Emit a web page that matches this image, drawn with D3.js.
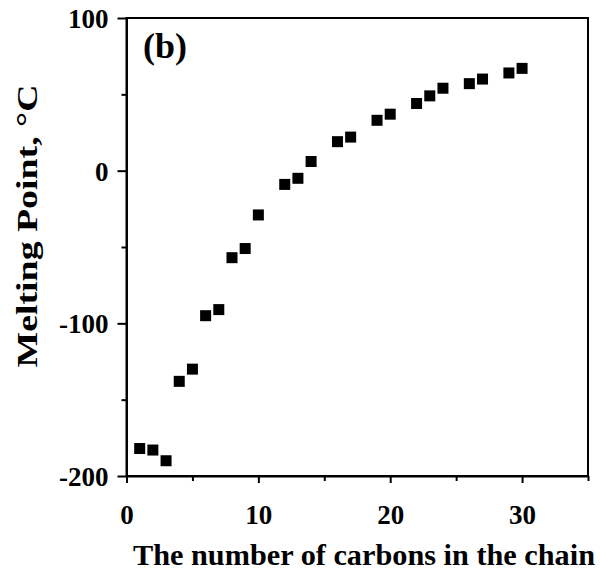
<!DOCTYPE html>
<html><head><meta charset="utf-8">
<script src="https://cdn.jsdelivr.net/npm/d3@7"></script>
<style>body{margin:0;background:#fff}svg{display:block}</style>
</head><body>
<svg id="c" width="600" height="577"></svg>
<script>
const carbons = [1,2,3,4,5,6,7,8,9,10,12,13,14,16,17,19,20,22,23,24,26,27,29,30];
const meltingPoints = [-182,-183,-190,-138,-130,-95,-91,-57,-51,-29,-9,-5,6,19,22,33,37,44,49,54,57,60,64,67];
const xTicks = [0,10,20,30];
const xMinorTicks = [5,15,25,35];
const yTicks = [-200,-100,0,100];
const yMinorTicks = [-150,-50,50];
const xTitle = "The number of carbons in the chain";
const yTitle = "Melting Point, °C";
const panelLabel = "(b)";

const svg = d3.select("#c");
const L = 126.5, R = 588, T = 18, B = 476;
const x = d3.scaleLinear().domain([0,35]).range([L,R]);
const y = d3.scaleLinear().domain([-200,100]).range([B,T]);
const font = "'Liberation Serif','Times New Roman',serif";
const fmt = d => String(d);

svg.append("rect").attr("x",L).attr("y",T).attr("width",R-L).attr("height",B-T)
  .attr("fill","none").attr("stroke","#000").attr("stroke-width",2);

svg.append("g").attr("transform",`translate(0,${B})`)
  .call(d3.axisBottom(x).tickValues(xTicks).tickSize(7).tickSizeOuter(0).tickPadding(22).tickFormat(fmt));
svg.append("g").attr("transform",`translate(0,${B})`)
  .call(d3.axisBottom(x).tickValues(xMinorTicks).tickSize(5).tickSizeOuter(0).tickFormat(""))
  .call(g=>g.select(".domain").remove());
const gy = svg.append("g").attr("transform",`translate(${L},0)`)
  .call(d3.axisLeft(y).tickValues(yTicks).tickSize(9).tickSizeOuter(0).tickPadding(9).tickFormat(fmt));
svg.append("g").attr("transform",`translate(${L},0)`)
  .call(d3.axisLeft(y).tickValues(yMinorTicks).tickSize(5).tickSizeOuter(0).tickFormat(""))
  .call(g=>g.select(".domain").remove());

svg.selectAll(".domain").attr("stroke-width",2);
svg.selectAll(".tick line").attr("stroke-width",2);
svg.selectAll(".tick text").attr("font-family",font).attr("font-weight","bold").attr("font-size",27).attr("fill","#000");
gy.selectAll(".tick text").attr("dy","0.35em");

const s = 11;
svg.append("g").selectAll("rect").data(carbons.map((c,i)=>[c,meltingPoints[i]])).join("rect")
  .attr("x",d=>x(d[0])-s/2).attr("y",d=>y(d[1])-s/2).attr("width",s).attr("height",s).attr("fill","#000");

svg.append("text").attr("x",143).attr("y",58).attr("font-family",font).attr("font-weight","bold")
  .attr("font-size",36).text(panelLabel);
svg.append("text").attr("x",133).attr("y",565).attr("font-family",font)
  .attr("font-weight","bold").attr("font-size",30).attr("textLength",462).attr("lengthAdjust","spacingAndGlyphs").text(xTitle);
svg.append("text").attr("transform","translate(37,226) rotate(-90)").attr("text-anchor","middle")
  .attr("font-family",font).attr("font-weight","bold").attr("font-size",30)
  .attr("textLength",283).attr("lengthAdjust","spacingAndGlyphs").text(yTitle);
</script>
</body></html>
